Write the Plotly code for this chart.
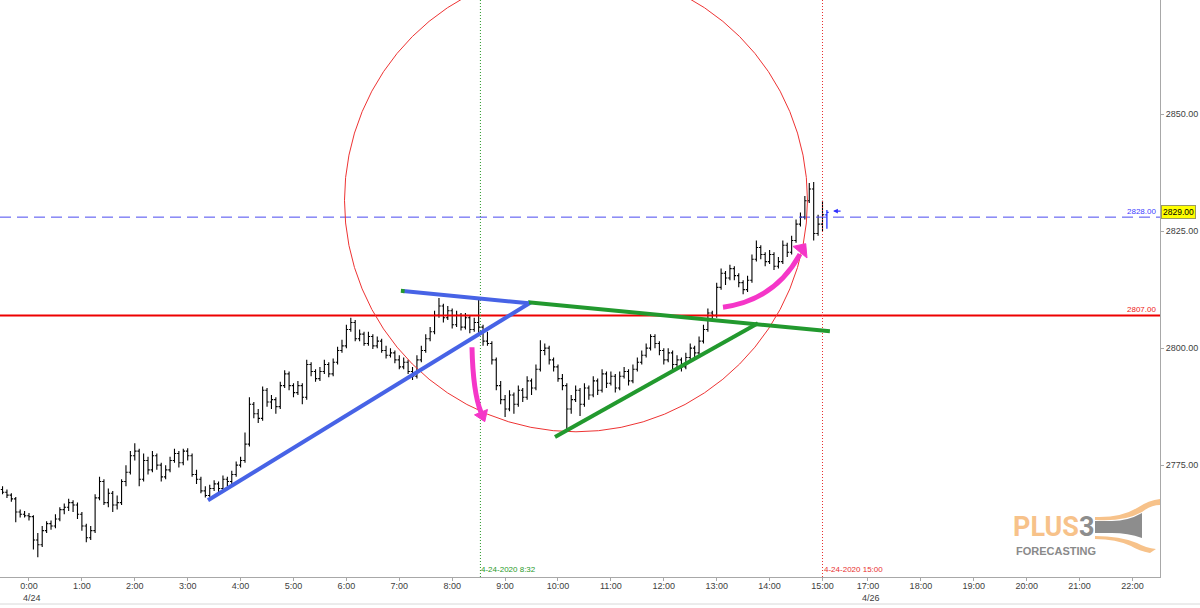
import plotly.graph_objects as go

# ---------------- data (5-minute bars, 4/24/2020, ES) ----------------
closes = [
    2769.2, 2768.6, 2767.8, 2765.0, 2764.5, 2764.2, 2764.0, 2759.0, 2758.0, 2761.0, 2762.5, 2762.0,
    2763.5, 2765.5, 2766.0, 2767.0, 2766.5, 2764.5, 2762.0, 2759.5, 2761.0, 2768.0, 2771.5, 2767.0,
    2769.0, 2766.5, 2767.0, 2771.5, 2773.5, 2777.0, 2778.0, 2772.0, 2776.0, 2774.0, 2777.0, 2775.0,
    2772.5, 2774.0, 2776.0, 2777.5, 2775.5, 2778.0, 2777.0, 2773.0, 2772.0, 2769.5, 2768.5, 2770.0,
    2771.0, 2770.0, 2772.0, 2771.5, 2773.0, 2775.0, 2776.0, 2779.5, 2788.0, 2786.0, 2785.0, 2791.0,
    2788.5, 2789.0, 2787.5, 2792.0, 2794.5, 2792.0, 2790.5, 2792.0, 2789.5, 2796.5, 2795.0, 2793.5,
    2795.0, 2796.5, 2794.5, 2797.0, 2799.5, 2800.5, 2804.0, 2805.5, 2802.0, 2803.0, 2801.0, 2802.5,
    2800.5, 2801.5, 2799.5, 2798.5, 2799.0, 2797.5, 2796.0, 2797.0, 2795.0, 2794.0, 2797.5, 2799.5,
    2802.0, 2803.5, 2807.0, 2809.0, 2806.5, 2808.0, 2805.0, 2807.0, 2804.5, 2806.5, 2804.0, 2805.5,
    2804.5, 2801.5, 2801.0, 2797.5, 2792.0, 2789.0, 2787.0, 2790.0, 2788.0, 2791.0, 2789.5, 2793.0,
    2791.5, 2795.5, 2799.5, 2800.0, 2797.5, 2796.0, 2793.5, 2792.0, 2787.0, 2789.0, 2791.0, 2788.0,
    2791.5, 2790.0, 2793.0, 2791.0, 2794.5, 2792.5, 2794.0, 2791.5, 2794.0, 2795.0, 2793.0, 2795.5,
    2797.0, 2798.5, 2800.0, 2802.5, 2801.0, 2799.5, 2797.5, 2799.0, 2796.5, 2797.5, 2796.0, 2798.0,
    2800.0, 2799.0, 2801.5, 2804.0, 2807.5, 2807.0, 2813.0, 2816.0, 2815.0, 2817.0, 2815.5, 2814.0,
    2812.5, 2814.5, 2819.0, 2821.5, 2820.0, 2818.5, 2820.0, 2817.5, 2818.5, 2822.0, 2820.5, 2823.0,
    2826.5, 2828.0, 2831.5, 2834.0, 2824.5, 2826.5, 2828.5, 2829.0,
]
opens = [
    2769.8, 2769.2, 2768.6, 2767.8, 2765.0, 2764.5, 2764.2, 2764.0, 2759.0, 2758.0, 2761.0, 2762.5,
    2762.0, 2763.5, 2765.5, 2766.0, 2767.0, 2766.5, 2764.5, 2762.0, 2759.5, 2761.0, 2768.0, 2771.5,
    2767.0, 2769.0, 2766.5, 2767.0, 2771.5, 2773.5, 2777.0, 2778.0, 2772.0, 2776.0, 2774.0, 2777.0,
    2775.0, 2772.5, 2774.0, 2776.0, 2777.5, 2775.5, 2778.0, 2777.0, 2773.0, 2772.0, 2769.5, 2768.5,
    2770.0, 2771.0, 2770.0, 2772.0, 2771.5, 2773.0, 2775.0, 2776.0, 2779.5, 2788.0, 2786.0, 2785.0,
    2791.0, 2788.5, 2789.0, 2787.5, 2792.0, 2794.5, 2792.0, 2790.5, 2792.0, 2789.5, 2796.5, 2795.0,
    2793.5, 2795.0, 2796.5, 2794.5, 2797.0, 2799.5, 2800.5, 2804.0, 2805.5, 2802.0, 2803.0, 2801.0,
    2802.5, 2800.5, 2801.5, 2799.5, 2798.5, 2799.0, 2797.5, 2796.0, 2797.0, 2795.0, 2794.0, 2797.5,
    2799.5, 2802.0, 2803.5, 2807.0, 2809.0, 2806.5, 2808.0, 2805.0, 2807.0, 2804.5, 2806.5, 2804.0,
    2805.5, 2804.5, 2801.5, 2801.0, 2797.5, 2792.0, 2789.0, 2787.0, 2790.0, 2788.0, 2791.0, 2789.5,
    2793.0, 2791.5, 2795.5, 2799.5, 2800.0, 2797.5, 2796.0, 2793.5, 2792.0, 2787.0, 2789.0, 2791.0,
    2788.0, 2791.5, 2790.0, 2793.0, 2791.0, 2794.5, 2792.5, 2794.0, 2791.5, 2794.0, 2795.0, 2793.0,
    2795.5, 2797.0, 2798.5, 2800.0, 2802.5, 2801.0, 2799.5, 2797.5, 2799.0, 2796.5, 2797.5, 2796.0,
    2798.0, 2800.0, 2799.0, 2801.5, 2804.0, 2807.5, 2807.0, 2813.0, 2816.0, 2815.0, 2817.0, 2815.5,
    2814.0, 2812.5, 2814.5, 2819.0, 2821.5, 2820.0, 2818.5, 2820.0, 2817.5, 2818.5, 2822.0, 2820.5,
    2823.0, 2826.5, 2828.0, 2831.5, 2834.0, 2824.5, 2826.5, 2828.5,
]
highs = [
    2770.5, 2769.8, 2769.0, 2768.2, 2765.5, 2765.2, 2764.8, 2764.3, 2760.5, 2762.0, 2763.0, 2763.2,
    2764.5, 2766.0, 2766.8, 2767.8, 2767.5, 2767.0, 2765.0, 2762.5, 2762.0, 2768.8, 2772.5, 2772.0,
    2770.0, 2769.5, 2768.5, 2772.0, 2775.0, 2778.0, 2779.7, 2778.5, 2777.5, 2776.8, 2778.0, 2777.5,
    2775.5, 2775.0, 2776.8, 2778.5, 2778.0, 2778.5, 2778.6, 2777.5, 2774.0, 2772.5, 2770.5, 2770.8,
    2771.8, 2771.5, 2772.8, 2772.5, 2773.8, 2775.8, 2776.8, 2782.0, 2789.5, 2788.5, 2787.0, 2791.8,
    2791.5, 2790.0, 2789.5, 2792.8, 2795.3, 2795.0, 2792.5, 2793.0, 2792.5, 2797.5, 2797.0, 2795.5,
    2796.0, 2797.5, 2797.0, 2797.8, 2800.3, 2801.8, 2805.0, 2806.5, 2806.0, 2804.0, 2803.5, 2803.5,
    2803.0, 2802.5, 2802.0, 2800.5, 2800.0, 2799.5, 2798.5, 2798.0, 2797.5, 2796.0, 2798.5, 2800.5,
    2803.0, 2804.5, 2808.0, 2810.7, 2809.5, 2809.0, 2808.5, 2808.0, 2807.5, 2807.5, 2807.0, 2806.5,
    2810.5, 2805.0, 2803.5, 2801.5, 2798.0, 2793.0, 2790.0, 2791.0, 2790.5, 2792.0, 2791.5, 2794.0,
    2793.5, 2796.5, 2801.7, 2801.0, 2800.5, 2798.0, 2796.5, 2794.5, 2792.5, 2790.0, 2792.0, 2791.5,
    2792.5, 2792.0, 2794.0, 2793.5, 2795.5, 2795.0, 2795.0, 2794.5, 2795.0, 2796.0, 2795.5, 2796.5,
    2798.0, 2799.5, 2801.0, 2803.0, 2803.0, 2801.5, 2800.0, 2800.0, 2799.5, 2798.5, 2798.0, 2799.0,
    2801.0, 2800.5, 2802.5, 2805.0, 2808.5, 2808.0, 2814.0, 2817.0, 2816.5, 2817.8, 2817.5, 2816.0,
    2814.5, 2815.5, 2820.0, 2823.0, 2822.0, 2820.5, 2821.0, 2820.5, 2819.5, 2823.0, 2822.5, 2824.0,
    2827.5, 2829.0, 2832.5, 2835.3, 2835.5, 2828.5, 2831.5, 2829.5,
]
lows = [
    2768.8, 2768.0, 2767.2, 2762.8, 2763.8, 2763.8, 2763.2, 2757.0, 2755.3, 2757.5, 2760.5, 2761.2,
    2761.5, 2763.0, 2764.5, 2765.2, 2765.0, 2763.5, 2761.0, 2758.5, 2759.0, 2760.5, 2767.5, 2766.5,
    2766.0, 2765.0, 2765.5, 2766.5, 2770.5, 2773.0, 2776.0, 2770.5, 2771.5, 2773.0, 2773.5, 2774.0,
    2771.5, 2772.0, 2773.5, 2775.5, 2774.5, 2775.0, 2776.0, 2772.5, 2771.0, 2769.0, 2768.1, 2768.2,
    2769.5, 2769.0, 2769.5, 2770.5, 2771.0, 2772.5, 2774.5, 2775.5, 2779.0, 2785.0, 2784.0, 2784.5,
    2787.5, 2787.0, 2786.0, 2787.0, 2791.5, 2791.0, 2789.5, 2790.0, 2788.0, 2789.0, 2794.0, 2792.8,
    2793.0, 2794.5, 2793.8, 2794.0, 2796.5, 2799.0, 2800.0, 2803.5, 2801.5, 2801.5, 2800.5, 2800.5,
    2799.8, 2800.0, 2799.0, 2797.8, 2798.0, 2796.8, 2795.5, 2795.5, 2794.5, 2793.2, 2793.5, 2797.0,
    2799.0, 2801.5, 2803.0, 2806.5, 2805.5, 2806.0, 2804.2, 2804.5, 2803.8, 2804.0, 2803.2, 2803.5,
    2803.0, 2800.5, 2800.5, 2796.5, 2791.0, 2788.0, 2785.3, 2786.5, 2786.0, 2787.5, 2788.5, 2789.0,
    2790.0, 2791.0, 2795.0, 2798.5, 2796.5, 2795.0, 2792.8, 2791.0, 2782.3, 2786.0, 2788.5, 2785.5,
    2787.5, 2789.0, 2789.5, 2790.0, 2790.5, 2791.5, 2792.0, 2790.5, 2791.0, 2793.5, 2792.0, 2792.5,
    2795.0, 2796.5, 2798.0, 2799.5, 2800.0, 2798.5, 2796.5, 2797.0, 2795.5, 2796.0, 2795.0, 2795.5,
    2797.5, 2798.0, 2798.5, 2801.0, 2803.5, 2806.0, 2806.5, 2812.5, 2813.5, 2814.5, 2814.5, 2813.0,
    2811.5, 2812.0, 2814.0, 2818.5, 2819.0, 2817.5, 2818.0, 2816.7, 2817.0, 2818.0, 2819.5, 2820.0,
    2822.5, 2826.0, 2827.5, 2831.0, 2823.0, 2824.0, 2825.0, 2825.5,
]

# time axis: first bar at 23:30 of previous day, 5-minute bars (hours since 0:00 4/24)
first_bar_hour = -0.5
bar_step = 5 / 60
bar_hours = [first_bar_hour + i * bar_step for i in range(len(closes))]

# x-axis ticks (Friday session hours, then Sunday session after the gap)
tick_hours = [0, 1, 2, 3, 4, 5, 6, 7, 8, 9, 10, 11, 12, 13, 14, 15,
              15.86, 16.86, 17.86, 18.86, 19.86, 20.86]
tick_labels = ["0:00", "1:00", "2:00", "3:00", "4:00", "5:00", "6:00", "7:00",
               "8:00", "9:00", "10:00", "11:00", "12:00", "13:00", "14:00", "15:00",
               "17:00", "18:00", "19:00", "20:00", "21:00", "22:00"]
date_hours = [0, 15.86]
date_labels = ["4/24", "4/26"]
y_ticks = [2775, 2800, 2825, 2850]
y_tick_labels = ["2775.00", "2800.00", "2825.00", "2850.00"]

level_blue = 2828.0
level_red = 2807.0
last_price = 2829.0
vline_green = 8 + 32 / 60
vline_red = 15.0

# ---------------- layout geometry ----------------
X_RANGE = [-0.548, 21.38]
Y_RANGE = [2751.1, 2874.4]
PW, PH = 1160, 577  # plot area in pixels


def pp(x, y):
    """screen pixel -> paper coordinates (for the logo)"""
    return x / PW, (PH - y) / PH


def ppath(pts_cmds):
    out = []
    for c in pts_cmds:
        if isinstance(c, str):
            out.append(c)
        else:
            px_, py_ = pp(*c)
            out.append(f"{px_:.5f},{py_:.5f}")
    return " ".join(out)


fig = go.Figure()

fig.add_trace(go.Ohlc(
    x=bar_hours[:-1], open=opens[:-1], high=highs[:-1], low=lows[:-1], close=closes[:-1],
    increasing=dict(line=dict(color="#000000", width=1.1)),
    decreasing=dict(line=dict(color="#000000", width=1.1)),
    tickwidth=0.4, showlegend=False, hoverinfo="skip",
))
fig.add_trace(go.Ohlc(
    x=bar_hours[-1:], open=opens[-1:], high=highs[-1:], low=lows[-1:], close=closes[-1:],
    increasing=dict(line=dict(color="#1f2fff", width=1.3)),
    decreasing=dict(line=dict(color="#1f2fff", width=1.3)),
    tickwidth=0.4, showlegend=False, hoverinfo="skip",
))

shapes = []
# horizontal levels
shapes.append(dict(type="line", xref="paper", x0=0, x1=1, yref="y", y0=level_blue, y1=level_blue,
                   line=dict(color="#4a4af0", width=1, dash="11px,6px"), layer="above"))
shapes.append(dict(type="line", xref="paper", x0=0, x1=1, yref="y", y0=level_red, y1=level_red,
                   line=dict(color="#ee0000", width=2), layer="above"))
# vertical time markers
shapes.append(dict(type="line", xref="x", x0=vline_green, x1=vline_green, yref="paper", y0=0, y1=1,
                   line=dict(color="#2a9a2a", width=1, dash="1px,2px"), layer="above"))
shapes.append(dict(type="line", xref="x", x0=vline_red, x1=vline_red, yref="paper", y0=0, y1=1,
                   line=dict(color="#e83030", width=1, dash="1px,2px"), layer="above"))
# big circle
cx, cy, rx, ry = 10.34, 2831.6, 4.376, 49.47
shapes.append(dict(type="circle", xref="x", yref="y", x0=cx - rx, x1=cx + rx, y0=cy - ry, y1=cy + ry,
                   line=dict(color="#ee3333", width=1), layer="above"))
# trend lines
BLUE = "#4763e6"
GREEN = "#22992e"
shapes.append(dict(type="line", xref="x", yref="y", x0=3.384, y0=2767.5, x1=9.49, y1=2809.8,
                   line=dict(color=BLUE, width=4), layer="above"))
shapes.append(dict(type="line", xref="x", yref="y", x0=9.433, y0=2809.8, x1=15.14, y1=2803.6,
                   line=dict(color=GREEN, width=4), layer="above"))
shapes.append(dict(type="line", xref="x", yref="y", x0=7.07, y0=2812.2, x1=9.45, y1=2809.6,
                   line=dict(color=BLUE, width=4), layer="above"))
shapes.append(dict(type="line", xref="x", yref="y", x0=7.03, y0=2812.25, x1=7.10, y1=2812.17,
                   line=dict(color=GREEN, width=4), layer="above"))
shapes.append(dict(type="line", xref="x", yref="y", x0=9.943, y0=2781.0, x1=13.78, y1=2805.3,
                   line=dict(color=GREEN, width=4), layer="above"))
# magenta arrows
PINK = "#f536c8"
shapes.append(dict(type="path", xref="x", yref="y",
                   path="M 8.374,2800.2 Q 8.393,2790.6 8.544,2786.3",
                   line=dict(color=PINK, width=5), layer="above"))
shapes.append(dict(type="path", xref="x", yref="y",
                   path="M 8.616,2784.3 L 8.422,2785.75 L 8.667,2786.9 Z",
                   fillcolor=PINK, line=dict(color=PINK, width=1), layer="above"))
shapes.append(dict(type="path", xref="x", yref="y",
                   path="M 13.119,2808.76 Q 14.102,2810.26 14.575,2820.09",
                   line=dict(color=PINK, width=5), layer="above"))
shapes.append(dict(type="path", xref="x", yref="y",
                   path="M 14.683,2822.33 L 14.707,2819.27 L 14.442,2821.75 Z",
                   fillcolor=PINK, line=dict(color=PINK, width=1), layer="above"))

# logo graphics (paper coordinates)
ORANGE = "#f7c28a"
GRAY = "#8d8d8d"
shapes.append(dict(type="path", xref="paper", yref="paper",
                   path=ppath(["M", (1095, 521), "L", (1112, 521), "Q", (1128, 521), (1142, 513),
                               "L", (1142, 538), "Q", (1128, 533), (1112, 533), "L", (1095, 533), "Z"]),
                   fillcolor=GRAY, line=dict(width=0), layer="above"))
shapes.append(dict(type="path", xref="paper", yref="paper",
                   path=ppath(["M", (1095, 517), "Q", (1120, 518), (1137, 508), "Q", (1149, 500), (1160, 499),
                               "L", (1160, 505), "Q", (1151, 505), (1142, 512), "Q", (1124, 522), (1095, 520), "Z"]),
                   fillcolor=ORANGE, line=dict(width=0), layer="above"))
shapes.append(dict(type="path", xref="paper", yref="paper",
                   path=ppath(["M", (1095, 536), "Q", (1120, 536), (1137, 543), "Q", (1146, 548), (1156, 549),
                               "L", (1150, 553), "Q", (1139, 551), (1131, 546), "Q", (1116, 539), (1095, 539), "Z"]),
                   fillcolor=ORANGE, line=dict(width=0), layer="above"))
# bottom light line
shapes.append(dict(type="line", xref="paper", yref="paper", x0=0, x1=1200 / PW,
                   y0=(PH - 604) / PH, y1=(PH - 604) / PH,
                   line=dict(color="#d8d8d8", width=1), layer="above"))

annotations = []
annotations.append(dict(xref="paper", x=1157 / PW, xanchor="right", yref="y", y=level_blue, yanchor="bottom",
                        text="2828.00", showarrow=False, font=dict(size=8, color="#4040ff",
                                                                     family="Liberation Sans"),
                        borderpad=0))
annotations.append(dict(xref="paper", x=1157 / PW, xanchor="right", yref="y", y=level_red, yanchor="bottom",
                        text="2807.00", showarrow=False, font=dict(size=8, color="#ee2222",
                                                                     family="Liberation Sans"),
                        borderpad=0))
annotations.append(dict(xref="paper", x=1161 / PW, xanchor="left", yref="y", y=last_price, yanchor="middle",
                        text="2829.00", showarrow=False, bgcolor="#ffff00", bordercolor="#9a9a60",
                        borderwidth=1, borderpad=1,
                        font=dict(size=8.5, color="#000000", family="Liberation Sans")))
annotations.append(dict(xref="x", x=vline_green, xanchor="left", yref="paper", y=0, yanchor="bottom",
                        text="4-24-2020 8:32", showarrow=False, xshift=0, yshift=2, borderpad=0,
                        font=dict(size=8, color="#2a9a2a", family="Liberation Sans")))
annotations.append(dict(xref="x", x=vline_red, xanchor="left", yref="paper", y=0, yanchor="bottom",
                        text="4-24-2020 15:00", showarrow=False, xshift=0, yshift=2, borderpad=0,
                        font=dict(size=8, color="#e83030", family="Liberation Sans")))
# date labels under the session-start ticks
for dh, dl in zip(date_hours, date_labels):
    annotations.append(dict(xref="x", x=dh, xanchor="center", xshift=3, yref="paper", y=(PH - 598) / PH,
                            yanchor="middle", text=dl, showarrow=False, borderpad=0,
                            font=dict(size=9, color="#404040", family="Liberation Sans")))
# small blue price pointer
annotations.append(dict(xref="x", x=15.2, yref="y", y=2829.3, text="", showarrow=True,
                        ax=9, ay=0, arrowhead=2, arrowsize=0.8, arrowwidth=1.2, arrowcolor="#3030ff"))
# logo text
px_, py_ = pp(1012, 540)
annotations.append(dict(xref="paper", yref="paper", x=px_, y=py_, xanchor="left", yanchor="bottom",
                        text="<b>PLUS</b><b><span style='color:#8d8d8d'>3</span></b>", showarrow=False,
                        borderpad=0, yshift=-4,
                        font=dict(size=27, color=ORANGE, family="Roboto")))
px_, py_ = pp(1015, 556)
annotations.append(dict(xref="paper", yref="paper", x=px_, y=py_, xanchor="left", yanchor="bottom",
                        text="<b>FORECASTING</b>", showarrow=False, borderpad=0, yshift=-2,
                        font=dict(size=11, color="#8a8a8a", family="Liberation Sans")))

fig.update_layout(
    width=1200, height=608,
    margin=dict(l=0, r=40, t=0, b=31),
    paper_bgcolor="#ffffff", plot_bgcolor="#ffffff",
    showlegend=False,
    shapes=shapes, annotations=annotations,
    xaxis=dict(range=X_RANGE, tickmode="array", tickvals=tick_hours, ticktext=tick_labels,
               showgrid=False, zeroline=False, showline=True, linecolor="#a8a8a8", linewidth=1,
               ticks="outside", ticklen=3, tickcolor="#a8a8a8", ticklabelstandoff=-3,
               tickfont=dict(size=9, color="#404040", family="Liberation Sans"),
               rangeslider=dict(visible=False), fixedrange=True),
    yaxis=dict(range=Y_RANGE, side="right", tickmode="array", tickvals=y_ticks, ticktext=y_tick_labels,
               showgrid=False, zeroline=False, showline=True, linecolor="#a8a8a8", linewidth=1,
               ticks="outside", ticklen=3, tickcolor="#a8a8a8",
               tickfont=dict(size=9, color="#404040", family="Liberation Sans"), fixedrange=True),
)

fig.write_html("out.html")
